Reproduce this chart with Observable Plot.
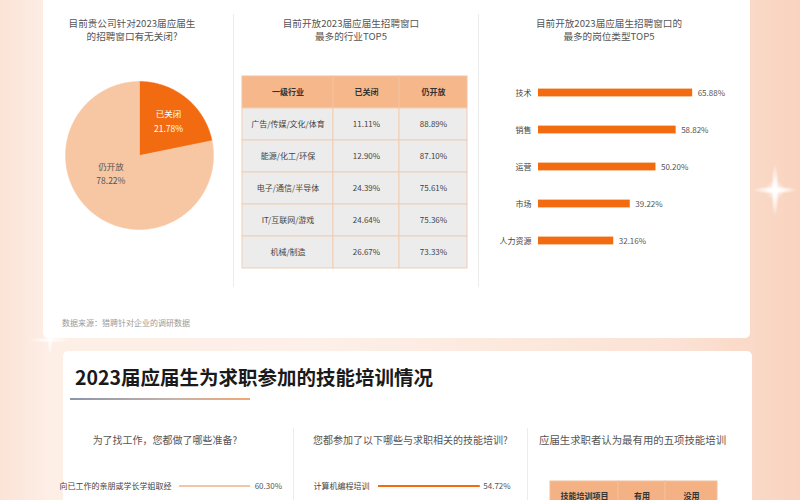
<!DOCTYPE html>
<html><head><meta charset="utf-8">
<script src="https://cdn.jsdelivr.net/npm/d3@7"></script>
<script src="https://cdn.jsdelivr.net/npm/@observablehq/plot@0.6"></script>
<style>
html,body{margin:0;padding:0;}
body{width:800px;height:500px;overflow:hidden;font-family:"Noto Sans CJK SC","Noto Sans",sans-serif;}
#page{position:relative;width:800px;height:500px;overflow:hidden;
  background:linear-gradient(90deg,#fbe3d6 0%,#fdeee6 6%,#fdf0e8 40%,#fbe2d4 85%,#f9d3bf 100%);}
.card{position:absolute;background:#fff;border-radius:5px;}
.abs{position:absolute;}
.t{position:absolute;color:#555;font-size:10px;line-height:12px;text-align:center;white-space:nowrap;}
.vline{position:absolute;width:1px;background:#ececec;}
.spark{position:absolute;pointer-events:none;}
</style></head>
<body><div id="page">
  <div class="card" style="left:43px;top:-8px;width:707px;height:346px;"></div>
  <div class="card" style="left:63px;top:351px;width:689px;height:170px;"></div>
  <div class="vline" style="left:233px;top:14px;height:273px;"></div>
  <div class="vline" style="left:478px;top:14px;height:273px;"></div>
  <div class="vline" style="left:293px;top:428px;height:80px;"></div>
  <div class="vline" style="left:527px;top:428px;height:80px;"></div>

  <div class="t" style="left:32px;top:17px;width:200px;font-size:9.6px;">目前贵公司针对2023届应届生</div>
  <div class="t" style="left:32px;top:30px;width:200px;font-size:9.6px;">的招聘窗口有无关闭?</div>
  <div class="t" style="left:251px;top:17px;width:200px;font-size:9.6px;">目前开放2023届应届生招聘窗口</div>
  <div class="t" style="left:251px;top:30px;width:200px;font-size:9.6px;">最多的行业TOP5</div>
  <div class="t" style="left:509px;top:17px;width:200px;font-size:9.6px;">目前开放2023届应届生招聘窗口的</div>
  <div class="t" style="left:509px;top:30px;width:200px;font-size:9.6px;">最多的岗位类型TOP5</div>
  <div class="t" style="left:62px;top:317px;font-size:8px;color:#9a9a9a;text-align:left;">数据来源：猎聘针对企业的调研数据</div>

  <div class="t" style="left:75px;top:365px;font-size:19.5px;line-height:24px;font-weight:700;color:#1a1a1a;text-align:left;">2023届应届生为求职参加的技能培训情况</div>
  <div class="abs" style="left:70px;top:398px;width:180px;height:2px;background:linear-gradient(90deg,#8796ab,#c9b3a6 60%,#f2a676);"></div>

  <div class="t" style="left:65px;top:434px;width:200px;">为了找工作，您都做了哪些准备?</div>
  <div class="t" style="left:313px;top:434px;text-align:left;">您都参加了以下哪些与求职相关的技能培训?</div>
  <div class="t" style="left:539px;top:434px;text-align:left;font-size:10.4px;">应届生求职者认为最有用的五项技能培训</div>

  <div class="spark" style="left:745px;top:160px;width:60px;height:60px;background:radial-gradient(ellipse 4px 26px at center,#ffffff 0%,rgba(255,255,255,0.8) 40%,rgba(255,255,255,0) 100%),radial-gradient(ellipse 22px 4px at center,#ffffff 0%,rgba(255,255,255,0.8) 40%,rgba(255,255,255,0) 100%),radial-gradient(circle 10px at center,rgba(255,255,255,0.9),rgba(255,255,255,0));"></div>
  <div class="spark" style="left:25px;top:320px;width:50px;height:40px;background:radial-gradient(ellipse 3px 16px at center,#ffffff 0%,rgba(255,255,255,0) 100%),radial-gradient(ellipse 22px 3px at center,#ffffff 0%,rgba(255,255,255,0) 100%);"></div>
</div>
<script>
// ---------- data ----------
const pieLabels = ["已关闭", "仍开放"];
const pieValues = [21.78, 78.22];

const industryHeaders = ["一级行业", "已关闭", "仍开放"];
const industries = ["广告/传媒/文化/体育", "能源/化工/环保", "电子/通信/半导体", "IT/互联网/游戏", "机械/制造"];
const industryClosed = [11.11, 12.90, 24.39, 24.64, 26.67];
const industryOpen = [88.89, 87.10, 75.61, 75.36, 73.33];

const jobTypes = ["技术", "销售", "运营", "市场", "人力资源"];
const jobValues = [65.88, 58.82, 50.20, 39.22, 32.16];

const prepItems = ["向已工作的亲朋或学长学姐取经"];
const prepValues = [60.30];

const trainItems = ["计算机编程培训"];
const trainValues = [54.72];

const skillHeaders = ["技能培训项目", "有用", "没用"];

// ---------- layout constants ----------
const FONT = '"Noto Sans CJK SC","Noto Sans",sans-serif';
const ORANGE = "#f36b10";
const PEACH = "#f7c6a2";
const page = document.getElementById("page");
function place(svg, left, top) {
  svg.style.position = "absolute";
  svg.style.left = left + "px";
  svg.style.top = top + "px";
  svg.style.background = "transparent";
  svg.style.overflow = "visible";
  page.appendChild(svg);
}
const pct = v => v.toFixed(2) + "%";

// ---------- pie ----------
const pieData = pieLabels.map((k, i) => ({k, v: pieValues[i]}));
const arcs = d3.pie().sort(null).value(d => d.v)(pieData);
const piePts = arcs.flatMap(a => {
  const n = Math.max(4, Math.ceil((a.endAngle - a.startAngle) / 0.01));
  const pts = [{k: a.data.k, x: 0, y: 0}];
  for (let i = 0; i <= n; i++) {
    const t = a.startAngle + (a.endAngle - a.startAngle) * i / n;
    pts.push({k: a.data.k, x: Math.sin(t), y: Math.cos(t)});
  }
  pts.push({k: a.data.k, x: 0, y: 0});
  return pts;
});
const labR = [0.62, 0.45];
const mid = (a) => (a.startAngle + a.endAngle) / 2;
const pieLab = arcs.map((a, i) => ({
  k: a.data.k,
  x: labR[i] * Math.sin(mid(a) + (i === 1 ? 0.35 : 0)),
  y: labR[i] * Math.cos(mid(a) + (i === 1 ? 0.35 : 0)),
  text: a.data.k + "\n" + pct(a.data.v)
}));
place(Plot.plot({
  width: 148, height: 148, margin: 0,
  style: {fontFamily: FONT, background: "transparent"},
  x: {domain: [-1, 1], axis: null},
  y: {domain: [-1, 1], axis: null},
  color: {domain: pieLabels, range: [ORANGE, PEACH]},
  marks: [
    Plot.line(piePts, {x: "x", y: "y", z: "k", fill: "k", stroke: "k", strokeWidth: 0.5, curve: "linear"}),
    Plot.text(pieLab.filter(d => d.k === pieLabels[0]), {x: "x", y: "y", text: "text", fill: "#fff", fontSize: 8.5, lineHeight: 1.7}),
    Plot.text(pieLab.filter(d => d.k === pieLabels[1]), {x: "x", y: "y", text: "text", fill: "#555", fontSize: 8.5, lineHeight: 1.7})
  ]
}), 65, 81);

// ---------- industry table ----------
const colWeights = [91, 66, 68];
const colEdges = [0];
colWeights.forEach(w => colEdges.push(colEdges[colEdges.length - 1] + w));
const tableRows = [industryHeaders].concat(industries.map((d, i) => [d, pct(industryClosed[i]), pct(industryOpen[i])]));
const cells = tableRows.flatMap((row, r) => row.map((text, c) => ({
  row: String(r), header: r === 0, text, x1: colEdges[c], x2: colEdges[c + 1]
})));
place(Plot.plot({
  width: 227, height: 193, marginTop: 1, marginBottom: 0, marginLeft: 1, marginRight: 1,
  style: {fontFamily: FONT, background: "transparent"},
  x: {domain: [0, colEdges[3]], axis: null},
  y: {domain: tableRows.map((_, r) => String(r)), padding: 0, axis: null},
  marks: [
    Plot.barX(cells.filter(d => d.header), {x1: "x1", x2: "x2", y: "row", fill: "#f6b88b", stroke: "#f2c2a0", strokeWidth: 1, inset: 0}),
    Plot.barX(cells.filter(d => !d.header), {x1: "x1", x2: "x2", y: "row", fill: "#ececec", stroke: "#f2cdb2", strokeWidth: 1, inset: 0}),
    Plot.text(cells.filter(d => d.header), {x: d => (d.x1 + d.x2) / 2, y: "row", text: "text", fontSize: 8, fontWeight: 700, fill: "#333"}),
    Plot.text(cells.filter(d => !d.header), {x: d => (d.x1 + d.x2) / 2, y: "row", text: "text", fontSize: 8, fill: "#444"})
  ]
}), 241, 75);

// ---------- job types bars ----------
const jobs = jobTypes.map((name, i) => ({name, v: jobValues[i]}));
place(Plot.plot({
  width: 300, height: 188, marginLeft: 58, marginRight: 8, marginTop: 0, marginBottom: 0,
  style: {fontFamily: FONT, background: "transparent"},
  x: {domain: [0, 100], axis: null},
  y: {domain: jobTypes, padding: 0, label: null},
  marks: [
    Plot.barX(jobs, {x: "v", y: "name", fill: ORANGE, insetTop: 14.6, insetBottom: 14.6}),
    Plot.text(jobs, {x: "v", y: "name", text: d => pct(d.v), dx: 5, textAnchor: "start", fontSize: 8, fill: "#555"}),
    Plot.axisY({tickSize: 0, tickPadding: 7, fontSize: 8, fill: "#444", label: null})
  ]
}), 480, 72);

// ---------- preparation bars ----------
const prep = prepItems.map((name, i) => ({name, v: prepValues[i]}));
place(Plot.plot({
  width: 250, height: 20, marginLeft: 79, marginRight: 53, marginTop: 0, marginBottom: 0,
  style: {fontFamily: FONT, background: "transparent"},
  x: {domain: [0, 100], axis: null},
  y: {domain: prepItems, padding: 0.8, label: null},
  marks: [
    Plot.barX(prep, {x: "v", y: "name", fill: "#f2c6a5"}),
    Plot.text(prep, {x: "v", y: "name", text: d => pct(d.v), dx: 4, textAnchor: "start", fontSize: 8, fill: "#555"}),
    Plot.axisY({tickSize: 0, tickPadding: 8, fontSize: 8, fill: "#444", label: null})
  ]
}), 100, 476);

// ---------- training bars ----------
const train = trainItems.map((name, i) => ({name, v: trainValues[i]}));
place(Plot.plot({
  width: 290, height: 20, marginLeft: 65, marginRight: 39, marginTop: 0, marginBottom: 0,
  style: {fontFamily: FONT, background: "transparent"},
  x: {domain: [0, 100], axis: null},
  y: {domain: trainItems, padding: 0.78, label: null},
  marks: [
    Plot.barX(train, {x: "v", y: "name", fill: ORANGE}),
    Plot.text(train, {x: "v", y: "name", text: d => pct(d.v), dx: 3, textAnchor: "start", fontSize: 8, fill: "#555"}),
    Plot.axisY({tickSize: 0, tickPadding: 0, textAnchor: "start", dx: -65, fontSize: 8, fill: "#444", label: null})
  ]
}), 313, 476);

// ---------- skill table header ----------
const skillWeights = [68, 47, 52];
const skillEdges = [0];
skillWeights.forEach(w => skillEdges.push(skillEdges[skillEdges.length - 1] + w));
const skillCells = skillHeaders.map((text, c) => ({row: "0", text, x1: skillEdges[c], x2: skillEdges[c + 1]}));
place(Plot.plot({
  width: 169, height: 31, marginTop: 1, marginBottom: 0, marginLeft: 1, marginRight: 1,
  style: {fontFamily: FONT, background: "transparent"},
  x: {domain: [0, skillEdges[3]], axis: null},
  y: {domain: ["0"], padding: 0, axis: null},
  marks: [
    Plot.barX(skillCells, {x1: "x1", x2: "x2", y: "row", fill: "#f4b183", stroke: "#f0c09c", strokeWidth: 1}),
    Plot.text(skillCells, {x: d => (d.x1 + d.x2) / 2, y: "row", text: "text", fontSize: 8, fontWeight: 700, fill: "#333"})
  ]
}), 549, 480);
</script>
</body></html>
